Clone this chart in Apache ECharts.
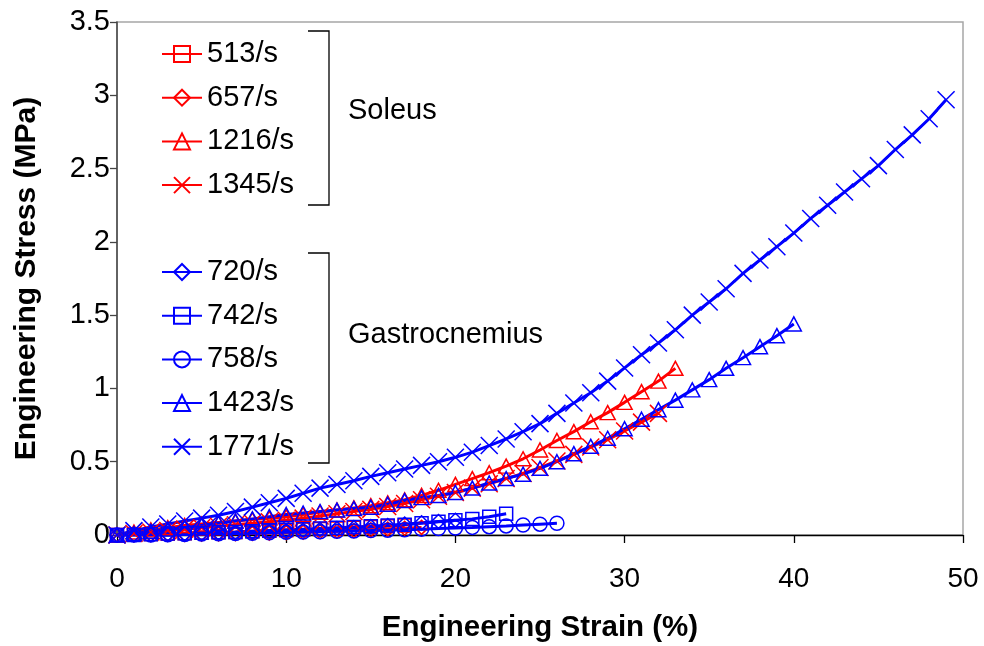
<!DOCTYPE html>
<html>
<head>
<meta charset="utf-8">
<script src="https://cdn.jsdelivr.net/npm/echarts@6/dist/echarts.min.js"></script>
<style>
  html, body { margin: 0; padding: 0; background: #fff; }
  #chart { width: 984px; height: 646px; }
</style>
</head>
<body>
<div id="chart"></div>
<script>
// Strain (%) at each recorded point
const strain = [0,1,2,3,4,5,6,7,8,9,10,11,12,13,14,15,16,17,18,19,20,21,22,23,24,25,26,27,28,29,30,31,32,33,34,35,36,37,38,39,40,41,42,43,44,45,46,47,48,49];

// Soleus stress (MPa) per strain rate
const sol513  = [0,0.003,0.006,0.009,0.012,0.015,0.018,0.021,0.025,0.029,0.033,0.037,0.041,0.045,0.05,0.055,0.06,0.065];
const sol657  = [0,0.001,0.002,0.003,0.004,0.005,0.007,0.009,0.011,0.013,0.016,0.019,0.022,0.026,0.03,0.035,0.04,0.046,0.052];
const sol1216 = [0,0.02,0.035,0.05,0.065,0.075,0.085,0.095,0.105,0.115,0.125,0.14,0.155,0.17,0.185,0.2,0.22,0.24,0.27,0.305,0.345,0.385,0.425,0.47,0.52,0.58,0.645,0.705,0.773,0.835,0.905,0.978,1.05,1.137];
const sol1345 = [0,0.01,0.02,0.03,0.04,0.05,0.06,0.07,0.08,0.09,0.1,0.115,0.13,0.145,0.16,0.175,0.195,0.215,0.24,0.265,0.29,0.32,0.35,0.385,0.42,0.46,0.505,0.55,0.6,0.65,0.71,0.77,0.83];

// Gastrocnemius stress (MPa) per strain rate
const gas720  = [0,0.002,0.004,0.006,0.008,0.01,0.013,0.016,0.02,0.024,0.028,0.033,0.038,0.044,0.05,0.057,0.065,0.074,0.083,0.092,0.1];
const gas742  = [0,0,0.005,0.01,0.012,0.015,0.018,0.02,0.025,0.03,0.035,0.04,0.045,0.05,0.055,0.06,0.065,0.07,0.08,0.09,0.1,0.11,0.125,0.145];
const gas758  = [0,0,0,0.002,0.004,0.006,0.008,0.01,0.012,0.015,0.018,0.02,0.022,0.025,0.028,0.03,0.033,0.036,0.04,0.044,0.048,0.052,0.057,0.062,0.068,0.074,0.08];
const gas1423 = [0,0.01,0.025,0.04,0.05,0.065,0.08,0.095,0.11,0.125,0.14,0.15,0.16,0.17,0.18,0.19,0.21,0.235,0.255,0.27,0.29,0.32,0.355,0.385,0.415,0.455,0.5,0.555,0.605,0.66,0.725,0.79,0.855,0.92,0.99,1.06,1.137,1.21,1.285,1.36,1.44];
const gas1771 = [0,0.03,0.055,0.075,0.095,0.115,0.135,0.16,0.19,0.22,0.25,0.285,0.32,0.345,0.37,0.4,0.425,0.45,0.475,0.5,0.53,0.565,0.61,0.655,0.705,0.76,0.83,0.9,0.97,1.05,1.14,1.23,1.31,1.4,1.5,1.59,1.68,1.785,1.876,1.967,2.06,2.16,2.25,2.34,2.43,2.52,2.63,2.73,2.84,2.97];

const soleusNames = ['513/s', '657/s', '1216/s', '1345/s'];
const gastroNames = ['720/s', '742/s', '758/s', '1423/s', '1771/s'];

const RED = '#ff0000';
const BLUE = '#0000ff';
const FONT = '"Liberation Sans", Arial, sans-serif';
const CROSS = 'path://M0,0L10,10M10,0L0,10';

function curve(name, values, color, symbol, size) {
  return {
    name: name,
    type: 'line',
    data: values.map((v, i) => [strain[i], v]),
    symbol: symbol,
    symbolSize: size,
    showAllSymbol: true,
    color: color,
    lineStyle: { color: color, width: 3 },
    itemStyle: { color: 'transparent', borderColor: color, borderWidth: 1.5 },
    emphasis: { disabled: true },
    animation: false
  };
}

const chart = echarts.init(document.getElementById('chart'), null, { renderer: 'canvas' });

const legendBase = {
  orient: 'vertical',
  left: 161,
  padding: 0,
  itemWidth: 40,
  itemHeight: 20,
  itemGap: 13.7,
  selectedMode: false,
  textStyle: { fontSize: 29, lineHeight: 30, color: '#000', fontFamily: FONT }
};

chart.setOption({
  backgroundColor: '#fff',
  animation: false,
  grid: {
    left: 117, right: 21, top: 22, bottom: 111,
    outerBoundsMode: 'none',
    containLabel: false,
    show: true, borderColor: '#a6a6a6', borderWidth: 1.5
  },
  xAxis: {
    type: 'value', min: 0, max: 50, interval: 10,
    axisLine: { lineStyle: { color: '#000', width: 1.3 } },
    axisTick: { show: true, length: 8, lineStyle: { color: '#000', width: 1.3 } },
    splitLine: { show: false },
    axisLabel: { fontSize: 28, color: '#000', margin: 30, fontFamily: FONT },
    name: 'Engineering Strain (%)',
    nameLocation: 'middle', nameGap: 78,
    nameTextStyle: { fontSize: 29.5, fontWeight: 'bold', color: '#000', fontFamily: FONT }
  },
  yAxis: {
    type: 'value', min: 0, max: 3.5, interval: 0.5,
    axisLine: { show: true, lineStyle: { color: '#444', width: 1.5 } },
    axisTick: { show: true, length: 7, lineStyle: { color: '#444', width: 1.3 } },
    splitLine: { show: false },
    axisLabel: { fontSize: 29, color: '#000', margin: 7, fontFamily: FONT },
    name: 'Engineering Stress (MPa)',
    nameLocation: 'middle', nameGap: 75, nameRotate: 90,
    nameTextStyle: { fontSize: 30, fontWeight: 'bold', color: '#000', fontFamily: FONT }
  },
  legend: [
    Object.assign({}, legendBase, { top: 39, data: soleusNames }),
    Object.assign({}, legendBase, { top: 257, data: gastroNames })
  ],
  graphic: [
    { type: 'polyline', shape: { points: [[308, 31], [329, 31], [329, 205], [308, 205]] },
      style: { stroke: '#000', lineWidth: 1.3, fill: null } },
    { type: 'polyline', shape: { points: [[308, 253], [329, 253], [329, 463], [308, 463]] },
      style: { stroke: '#000', lineWidth: 1.3, fill: null } },
    { type: 'text', style: { x: 348, y: 111, text: 'Soleus', fill: '#000',
      font: '29px "Liberation Sans", Arial, sans-serif', verticalAlign: 'middle' } },
    { type: 'text', style: { x: 348, y: 335, text: 'Gastrocnemius', fill: '#000',
      font: '29px "Liberation Sans", Arial, sans-serif', verticalAlign: 'middle' } }
  ],
  series: [
    curve('513/s', sol513, RED, 'rect', 13),
    curve('657/s', sol657, RED, 'diamond', 14),
    curve('1216/s', sol1216, RED, 'triangle', [15, 14]),
    curve('1345/s', sol1345, RED, CROSS, 17),
    curve('720/s', gas720, BLUE, 'diamond', 14),
    curve('742/s', gas742, BLUE, 'rect', 13),
    curve('758/s', gas758, BLUE, 'circle', 14),
    curve('1423/s', gas1423, BLUE, 'triangle', [15, 14]),
    curve('1771/s', gas1771, BLUE, CROSS, 17)
  ]
});
</script>
</body>
</html>
